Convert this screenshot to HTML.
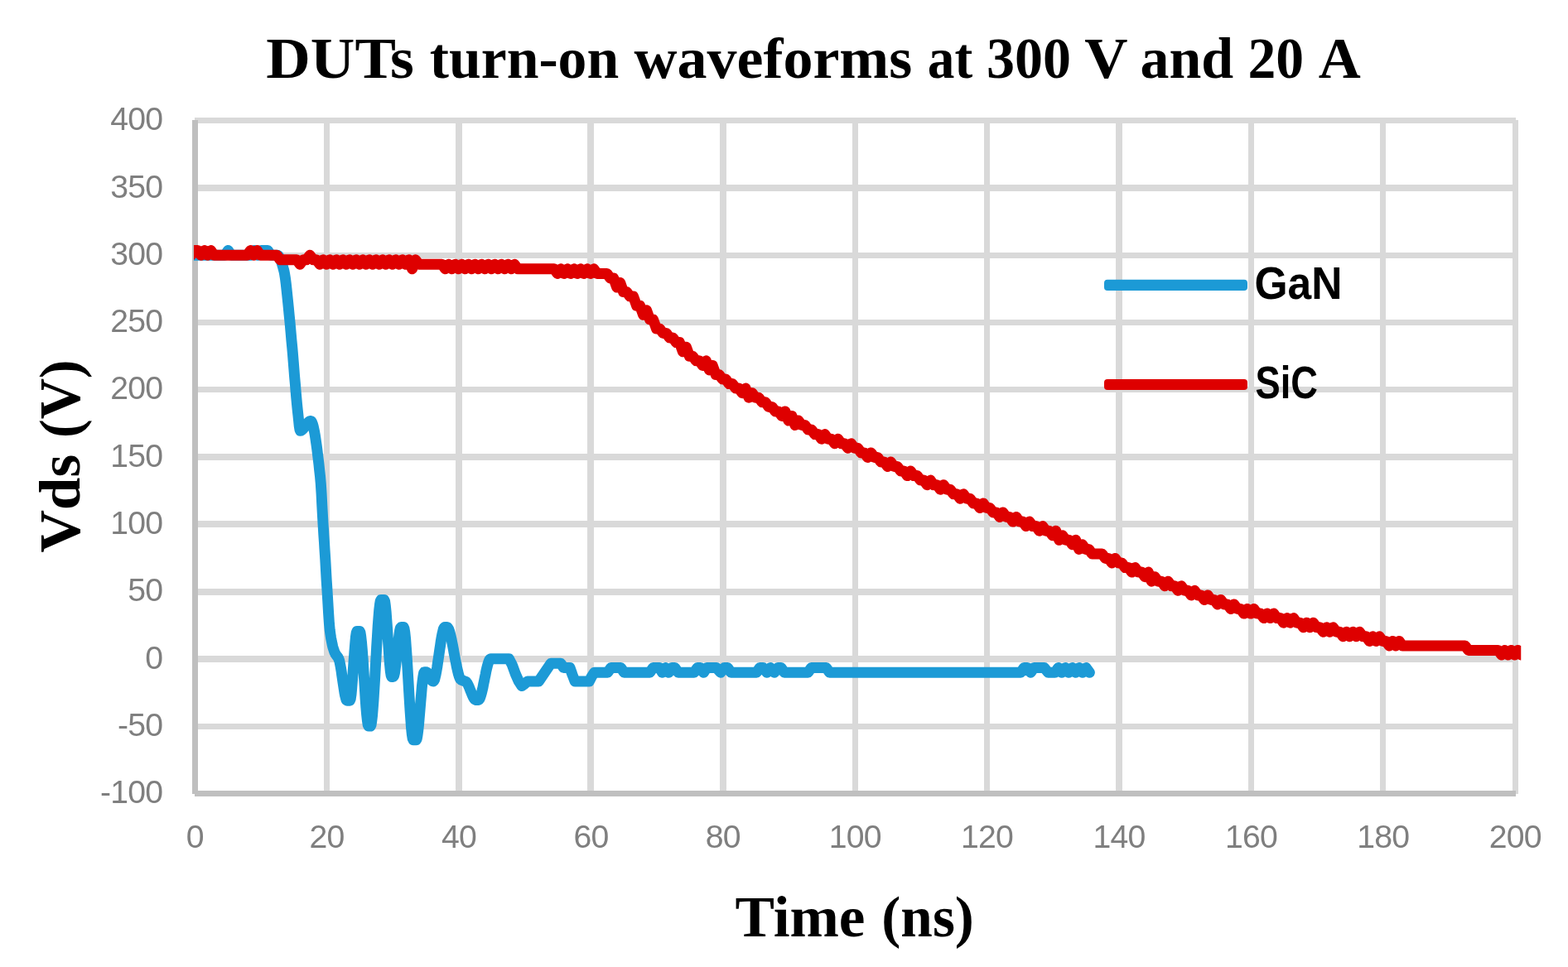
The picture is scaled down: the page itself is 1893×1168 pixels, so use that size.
<!DOCTYPE html>
<html lang="en"><head><meta charset="utf-8"><title>DUTs turn-on waveforms at 300 V and 20 A</title>
<style>html,body{margin:0;padding:0;background:#fff}body{width:1893px;height:1168px;overflow:hidden}svg{display:block}</style>
</head><body>
<svg width="1893" height="1168" viewBox="0 0 1893 1168">
<rect width="1893" height="1168" fill="#fff"/>
<defs><clipPath id="pc"><rect x="234" y="100" width="1602.25" height="900"/></clipPath></defs>
<path d="M235,142H1830V149H235ZM235,223H1830V231H235ZM235,305H1830V312H235ZM235,386H1830V393H235ZM235,467H1830V474H235ZM235,548H1830V556H235ZM235,629H1830V637H235ZM235,711H1830V719H235ZM235,792H1830V800H235ZM235,874H1830V881H235ZM391,145H398V959H391ZM550,145H558V959H550ZM709,145H717V959H709ZM869,145H877V959H869ZM1029,145H1036V959H1029ZM1188,145H1195V959H1188ZM1347,145H1355V959H1347ZM1507,145H1514V959H1507ZM1666,145H1673V959H1666ZM1826,145H1833V959H1826Z" fill="#d9d9d9" shape-rendering="crispEdges"/>
<path d="M232,145H239V959H232ZM235,955H1830V962H235Z" fill="#bfbfbf" shape-rendering="crispEdges"/>
<g clip-path="url(#pc)" fill="none" stroke-linejoin="round" stroke-linecap="round" stroke-width="13">
<path d="M231.5,308.3 L271.4,308.3 L275.4,302.5 L279.3,308.3 L303.3,308.3 L307.2,302.5 L311.2,308.3 L315.2,302.5 L319.2,302.5 L323.2,302.5 L327.1,308.3 L331.1,308.3 L331.9,308.3 L332.7,308.3 L333.5,308.3 L334.3,308.3 L335.1,308.3 L335.8,308.6 L336.5,309.5 L337.1,310.7 L337.8,312.1 L338.5,313.5 L339.2,315.0 L339.9,316.8 L340.5,318.8 L341.2,321.0 L341.8,323.2 L342.4,325.5 L343.1,328.2 L343.7,331.4 L344.5,336.5 L345.3,342.9 L346.1,350.2 L346.9,357.9 L347.7,365.6 L348.4,372.7 L349.1,380.1 L349.9,387.8 L350.6,395.8 L351.3,403.8 L352.0,411.9 L352.8,420.0 L353.5,428.3 L354.2,436.9 L354.9,445.8 L355.6,454.7 L356.4,463.6 L357.1,472.2 L357.8,480.4 L358.5,488.0 L359.2,495.0 L359.9,501.4 L360.6,508.1 L361.2,514.2 L361.9,518.6 L362.5,520.2 L363.3,520.1 L364.1,519.7 L364.8,519.2 L365.6,518.4 L366.4,517.5 L367.2,516.5 L368.0,515.5 L368.8,514.4 L369.5,513.3 L370.3,512.2 L371.1,511.2 L371.9,510.3 L372.7,509.6 L373.4,509.0 L374.2,508.6 L375.0,508.5 L375.8,508.9 L376.5,510.1 L377.3,512.0 L378.1,514.6 L378.8,517.9 L379.6,521.7 L380.4,526.1 L381.1,530.9 L381.9,536.3 L382.7,542.0 L383.4,548.1 L384.2,554.5 L385.0,561.1 L385.7,568.0 L386.5,575.0 L387.3,584.2 L388.1,596.6 L388.8,610.6 L389.6,625.1 L390.4,638.5 L390.9,646.9 L391.5,655.3 L392.0,663.8 L392.8,676.2 L393.5,688.8 L394.2,701.3 L395.0,713.4 L395.8,726.8 L396.6,740.5 L397.4,752.6 L398.2,761.0 L398.9,766.1 L399.6,770.7 L400.4,774.7 L401.1,778.2 L401.8,781.3 L402.6,783.9 L403.3,786.1 L404.0,788.0 L404.7,789.5 L405.4,790.6 L406.1,791.6 L406.9,792.5 L407.6,793.4 L408.3,794.6 L409.0,796.0 L409.8,798.3 L410.5,801.7 L411.3,805.9 L412.1,810.7 L412.8,815.9 L413.6,821.3 L414.4,826.6 L415.2,831.7 L415.9,836.4 L416.7,840.4 L417.5,843.5 L418.2,845.5 L419.0,846.2 L419.7,846.2 L420.4,846.2 L421.0,846.2 L421.7,846.2 L422.4,846.2 L423.2,844.2 L424.0,838.9 L424.7,830.9 L425.5,821.0 L426.3,810.0 L427.1,798.6 L427.9,787.6 L428.7,777.7 L429.4,769.7 L430.2,764.4 L431.0,762.4 L431.8,762.4 L432.6,762.4 L433.4,762.4 L434.2,762.4 L435.0,764.1 L435.7,768.8 L436.5,775.9 L437.3,785.1 L438.1,795.8 L438.8,807.5 L439.6,819.8 L440.4,832.0 L441.1,843.7 L441.9,854.4 L442.7,863.6 L443.5,870.7 L444.2,875.4 L445.0,877.1 L445.7,877.1 L446.5,877.1 L447.2,877.1 L448.0,875.6 L448.7,871.3 L449.5,864.5 L450.2,855.7 L451.0,845.3 L451.7,833.5 L452.5,820.8 L453.2,807.6 L454.0,794.1 L454.7,780.9 L455.5,768.2 L456.2,756.4 L457.0,746.0 L457.7,737.2 L458.5,730.4 L459.2,726.1 L460.0,724.6 L460.8,724.6 L461.5,724.6 L462.3,724.6 L463.0,724.6 L463.8,724.6 L464.6,726.4 L465.3,731.5 L466.1,739.1 L466.8,748.7 L467.6,759.5 L468.3,771.0 L469.1,782.5 L469.8,793.3 L470.6,802.9 L471.3,810.5 L472.1,815.6 L472.8,817.4 L473.5,817.4 L474.1,817.4 L474.8,817.4 L475.6,816.2 L476.4,813.0 L477.1,808.0 L477.9,801.9 L478.7,794.9 L479.5,787.5 L480.3,780.0 L481.1,773.0 L481.9,766.9 L482.6,761.9 L483.4,758.7 L484.2,757.5 L484.9,757.5 L485.7,757.5 L486.4,757.5 L487.2,757.5 L488.0,759.2 L488.8,764.1 L489.6,771.7 L490.3,781.4 L491.1,792.8 L491.9,805.5 L492.7,818.8 L493.5,832.5 L494.3,845.8 L495.1,858.5 L495.9,869.9 L496.6,879.6 L497.4,887.2 L498.2,892.1 L499.0,893.8 L499.7,893.8 L500.4,893.8 L501.0,893.8 L501.7,893.8 L502.4,893.8 L503.2,892.4 L503.9,888.6 L504.7,882.7 L505.5,875.3 L506.2,866.7 L507.0,857.5 L507.8,848.0 L508.6,838.8 L509.3,830.2 L510.1,822.8 L510.9,816.9 L511.6,813.1 L512.4,811.7 L513.1,811.7 L513.7,811.7 L514.4,811.7 L515.2,812.0 L516.0,812.7 L516.7,813.8 L517.5,815.1 L518.3,816.6 L519.1,818.1 L519.9,819.6 L520.7,820.9 L521.4,822.0 L522.2,822.7 L523.0,823.0 L523.8,822.4 L524.6,820.8 L525.3,818.1 L526.1,814.7 L526.9,810.6 L527.7,806.0 L528.4,801.0 L529.2,795.7 L530.0,790.2 L530.8,784.8 L531.6,779.5 L532.3,774.5 L533.1,769.9 L533.9,765.8 L534.7,762.4 L535.4,759.7 L536.2,758.1 L537.0,757.5 L537.6,757.5 L538.3,757.5 L539.0,757.5 L539.6,757.5 L540.4,757.9 L541.1,758.9 L541.9,760.5 L542.7,762.7 L543.4,765.4 L544.2,768.5 L545.0,771.9 L545.7,775.6 L546.5,779.6 L547.3,783.7 L548.0,787.8 L548.8,792.0 L549.6,796.2 L550.4,800.3 L551.1,804.1 L551.9,807.8 L552.7,811.1 L553.4,814.1 L554.2,816.6 L555.0,818.7 L555.7,820.2 L556.5,821.0 L557.2,821.4 L558.0,821.8 L558.8,822.0 L559.5,822.3 L560.2,822.5 L561.0,822.8 L561.8,823.1 L562.5,823.5 L563.3,824.2 L564.1,825.3 L564.9,826.8 L565.7,828.4 L566.5,830.3 L567.3,832.3 L568.1,834.4 L568.9,836.4 L569.7,838.4 L570.5,840.3 L571.3,842.0 L572.1,843.4 L572.9,844.5 L573.7,845.2 L574.5,845.4 L575.2,845.4 L576.0,845.4 L576.8,845.4 L577.5,845.4 L578.3,845.0 L579.1,843.9 L579.8,842.1 L580.6,839.7 L581.4,836.9 L582.2,833.7 L583.0,830.2 L583.7,826.4 L584.5,822.6 L585.3,818.6 L586.1,814.8 L586.8,811.0 L587.6,807.5 L588.4,804.3 L589.2,801.5 L590.0,799.1 L590.7,797.3 L591.5,796.2 L592.3,795.8 L593.1,795.8 L593.9,795.8 L594.7,795.8 L595.5,795.8 L596.3,795.8 L614.5,795.8 L618.3,803.0 L622.3,814.0 L626.3,823.0 L630.0,828.6 L633.5,826.0 L636.8,823.0 L650.3,823.0 L665.0,801.3 L677.0,801.3 L680.5,806.5 L688.0,806.5 L691.0,815.0 L694.1,823.0 L711.3,823.0 L714.4,817.0 L717.5,812.3 L733.6,812.3 L737.6,806.6 L741.6,806.6 L745.6,806.6 L749.5,806.6 L753.5,812.3 L784.5,812.3 L788.5,806.6 L792.3,806.6 L796.1,806.6 L799.6,812.3 L803.4,806.6 L807.2,812.3 L811.0,806.6 L814.8,806.6 L818.8,812.3 L838.0,812.3 L842.0,806.6 L845.6,806.6 L849.4,812.3 L853.2,806.6 L857.0,806.6 L861.0,806.6 L865.0,806.6 L870.0,812.3 L874.5,806.6 L878.5,806.6 L882.5,812.3 L913.3,812.3 L917.3,806.6 L921.3,806.6 L925.8,812.3 L930.0,806.6 L934.8,812.3 L939.0,806.6 L943.0,806.6 L947.0,812.3 L975.5,812.3 L979.5,806.6 L984.0,806.6 L988.5,806.6 L993.0,806.6 L997.5,806.6 L1001.5,812.3 L1232.3,812.3 L1236.3,806.6 L1240.3,806.6 L1244.3,812.3 L1248.3,806.6 L1252.3,806.6 L1256.3,806.6 L1260.8,806.6 L1265.5,812.3 L1270.2,812.3 L1273.5,812.3 L1277.7,806.6 L1281.9,812.3 L1286.1,806.6 L1290.3,812.3 L1294.5,806.6 L1298.6,812.3 L1302.8,806.6 L1307.0,812.3 L1311.2,806.6 L1315.4,812.3" stroke="#1c9ad6"/>
<path d="M230.6,308.2 L234.6,302.6 L238.6,302.6 L242.6,308.2 L246.6,302.6 L250.5,308.2 L254.5,302.6 L258.5,308.2 L262.5,308.2 L266.5,308.2 L270.5,308.2 L274.4,308.2 L278.4,308.2 L282.4,308.2 L286.4,308.2 L290.4,308.2 L294.4,308.2 L298.4,308.2 L302.3,302.6 L306.3,308.2 L310.3,302.6 L314.3,308.2 L318.3,308.2 L322.3,308.2 L326.3,308.2 L330.2,308.2 L334.2,308.2 L338.2,313.8 L342.2,313.8 L346.2,313.8 L350.2,313.8 L354.1,313.8 L358.1,313.8 L362.1,319.3 L366.1,313.8 L370.1,313.8 L374.1,308.2 L378.1,313.8 L382.0,313.8 L386.0,319.3 L390.0,313.8 L394.0,319.3 L398.0,313.8 L402.0,319.3 L406.0,313.8 L409.9,319.3 L413.9,313.8 L417.9,319.3 L421.9,313.8 L425.9,319.3 L429.9,313.8 L433.9,319.3 L437.8,313.8 L441.8,319.3 L445.8,313.8 L449.8,319.3 L453.8,313.8 L457.8,319.3 L461.7,313.8 L465.7,319.3 L469.7,313.8 L473.7,319.3 L477.7,313.8 L481.7,319.3 L485.7,313.8 L489.6,319.3 L493.6,313.8 L497.6,324.8 L501.6,313.8 L505.6,319.3 L509.6,319.3 L513.5,319.3 L517.5,319.3 L521.5,319.3 L525.5,319.3 L529.5,319.3 L533.5,319.3 L537.5,324.8 L541.4,319.3 L545.4,324.8 L549.4,319.3 L553.4,324.8 L557.4,319.3 L561.4,324.8 L565.4,319.3 L569.3,324.8 L573.3,319.3 L577.3,324.8 L581.3,319.3 L585.3,324.8 L589.3,319.3 L593.2,324.8 L597.2,319.3 L601.2,324.8 L605.2,319.3 L609.2,324.8 L613.2,319.3 L617.2,324.8 L621.1,319.3 L625.1,324.8 L629.1,324.8 L633.1,324.8 L637.1,324.8 L641.1,324.8 L645.1,324.8 L649.0,324.8 L653.0,324.8 L657.0,324.8 L661.0,324.8 L665.0,324.8 L669.0,324.8 L672.9,330.4 L676.9,324.8 L680.9,330.4 L684.9,324.8 L688.9,330.4 L692.9,324.8 L696.9,330.4 L700.8,324.8 L704.8,330.4 L708.8,324.8 L712.8,330.4 L716.8,324.8 L720.8,330.4 L724.8,330.4 L728.7,330.4 L732.7,330.4 L736.7,335.9 L740.7,335.9 L744.7,347.1 L748.7,341.5 L752.6,352.6 L756.6,352.6 L760.6,358.1 L764.6,358.1 L768.6,369.2 L772.6,369.2 L776.6,380.3 L780.5,374.8 L784.5,385.9 L788.5,385.9 L792.5,397.0 L796.5,397.0 L800.5,402.5 L804.5,402.5 L808.4,408.1 L812.4,408.1 L816.4,413.6 L820.4,413.6 L824.4,424.8 L828.4,419.2 L832.4,430.3 L836.3,430.3 L840.3,435.8 L844.3,435.8 L848.3,441.4 L852.3,435.8 L856.3,446.9 L860.2,441.4 L864.2,452.5 L868.2,452.5 L872.2,458.0 L876.2,458.0 L880.2,463.6 L884.2,463.6 L888.1,469.1 L892.1,469.1 L896.1,474.7 L900.1,469.1 L904.1,480.2 L908.1,474.7 L912.0,480.2 L916.0,480.2 L920.0,485.8 L924.0,485.8 L928.0,491.4 L932.0,491.4 L936.0,496.9 L939.9,496.9 L943.9,502.4 L947.9,496.9 L951.9,508.0 L955.9,502.4 L959.9,513.5 L963.9,508.0 L967.8,513.5 L971.8,513.5 L975.8,519.1 L979.8,519.1 L983.8,524.6 L987.8,524.6 L991.8,530.2 L995.7,524.6 L999.7,530.2 L1003.7,530.2 L1007.7,535.8 L1011.7,530.2 L1015.7,535.8 L1019.6,535.8 L1023.6,541.3 L1027.6,535.8 L1031.6,541.3 L1035.6,541.3 L1039.6,546.9 L1043.6,546.9 L1047.5,552.4 L1051.5,546.9 L1055.5,552.4 L1059.5,552.4 L1063.5,558.0 L1067.5,558.0 L1071.5,563.5 L1075.4,558.0 L1079.4,563.5 L1083.4,563.5 L1087.4,569.0 L1091.4,569.0 L1095.4,574.6 L1099.3,569.0 L1103.3,574.6 L1107.3,574.6 L1111.3,580.1 L1115.3,580.1 L1119.3,585.7 L1123.3,580.1 L1127.2,585.7 L1131.2,585.7 L1135.2,591.2 L1139.2,585.7 L1143.2,591.2 L1147.2,591.2 L1151.1,596.8 L1155.1,596.8 L1159.1,602.3 L1163.1,596.8 L1167.1,602.3 L1171.1,602.3 L1175.1,607.9 L1179.0,607.9 L1183.0,613.5 L1187.0,607.9 L1191.0,613.5 L1195.0,613.5 L1199.0,619.0 L1203.0,619.0 L1206.9,624.5 L1210.9,619.0 L1214.9,624.5 L1218.9,624.5 L1222.9,630.1 L1226.9,624.5 L1230.8,630.1 L1234.8,630.1 L1238.8,635.6 L1242.8,630.1 L1246.8,635.6 L1250.8,635.6 L1254.8,641.2 L1258.7,635.6 L1262.7,641.2 L1266.7,641.2 L1270.7,646.8 L1274.7,641.2 L1278.7,652.3 L1282.7,646.8 L1286.6,652.3 L1290.6,652.3 L1294.6,657.8 L1298.6,652.3 L1302.6,663.4 L1306.6,657.8 L1310.5,663.4 L1314.5,663.4 L1318.5,669.0 L1322.5,669.0 L1326.5,669.0 L1330.5,669.0 L1334.5,674.5 L1338.4,674.5 L1342.4,680.0 L1346.4,674.5 L1350.4,680.0 L1354.4,680.0 L1358.4,685.6 L1362.4,685.6 L1366.3,691.1 L1370.3,685.6 L1374.3,691.1 L1378.3,691.1 L1382.3,696.7 L1386.3,691.1 L1390.2,702.2 L1394.2,696.7 L1398.2,702.2 L1402.2,702.2 L1406.2,707.8 L1410.2,702.2 L1414.2,707.8 L1418.1,707.8 L1422.1,713.3 L1426.1,707.8 L1430.1,713.3 L1434.1,713.3 L1438.1,718.9 L1442.1,713.3 L1446.0,718.9 L1450.0,718.9 L1454.0,724.5 L1458.0,718.9 L1462.0,724.5 L1466.0,724.5 L1469.9,730.0 L1473.9,724.5 L1477.9,730.0 L1481.9,730.0 L1485.9,735.5 L1489.9,730.0 L1493.9,735.5 L1497.8,735.5 L1501.8,741.1 L1505.8,735.5 L1509.8,741.1 L1513.8,735.5 L1517.8,741.1 L1521.8,741.1 L1525.7,746.6 L1529.7,741.1 L1533.7,746.6 L1537.7,741.1 L1541.7,746.6 L1545.7,746.6 L1549.6,752.2 L1553.6,746.6 L1557.6,752.2 L1561.6,746.6 L1565.6,752.2 L1569.6,752.2 L1573.6,757.8 L1577.5,752.2 L1581.5,757.8 L1585.5,752.2 L1589.5,757.8 L1593.5,757.8 L1597.5,763.3 L1601.5,757.8 L1605.4,763.3 L1609.4,757.8 L1613.4,763.3 L1617.4,763.3 L1621.4,768.8 L1625.4,763.3 L1629.3,768.8 L1633.3,763.3 L1637.3,768.8 L1641.3,763.3 L1645.3,768.8 L1649.3,768.8 L1653.3,774.4 L1657.2,768.8 L1661.2,774.4 L1665.2,768.8 L1669.2,774.4 L1673.2,774.4 L1677.2,780.0 L1681.2,774.4 L1685.1,780.0 L1689.1,774.4 L1693.1,780.0 L1697.1,780.0 L1701.1,780.0 L1705.1,780.0 L1709.0,780.0 L1713.0,780.0 L1717.0,780.0 L1721.0,780.0 L1725.0,780.0 L1729.0,780.0 L1733.0,780.0 L1736.9,780.0 L1740.9,780.0 L1744.9,780.0 L1748.9,780.0 L1752.9,780.0 L1756.9,780.0 L1760.9,780.0 L1764.8,780.0 L1768.8,780.0 L1772.8,785.5 L1776.8,785.5 L1780.8,785.5 L1784.8,785.5 L1788.7,785.5 L1792.7,785.5 L1796.7,785.5 L1800.7,785.5 L1804.7,785.5 L1808.7,785.5 L1812.7,791.0 L1816.6,785.5 L1820.6,791.0 L1824.6,785.5 L1828.6,791.0 L1832.6,785.5 L1836.6,791.0 L1840.6,785.5" stroke="#de0000"/>
</g>
<rect x="1333" y="337.8" width="173" height="13.1" rx="4" fill="#1c9ad6"/>
<rect x="1333" y="457.9" width="173" height="13.1" rx="4" fill="#de0000"/>
<text x="1514.5" y="361.1" font-family="'Liberation Sans','DejaVu Sans',sans-serif" font-weight="700" font-size="55" textLength="106" lengthAdjust="spacingAndGlyphs">GaN</text>
<text x="1515.5" y="481.2" font-family="'Liberation Sans','DejaVu Sans',sans-serif" font-weight="700" font-size="55" textLength="75.5" lengthAdjust="spacingAndGlyphs">SiC</text>
<g font-family="'Liberation Sans','DejaVu Sans',sans-serif" font-size="39.2" fill="#7f7f7f" letter-spacing="-0.8" text-anchor="end">
<text x="196.3" y="157.2">400</text>
<text x="196.3" y="238.5">350</text>
<text x="196.3" y="319.8">300</text>
<text x="196.3" y="401.1">250</text>
<text x="196.3" y="482.4">200</text>
<text x="196.3" y="563.7">150</text>
<text x="196.3" y="645.0">100</text>
<text x="196.3" y="726.3">50</text>
<text x="196.3" y="807.6">0</text>
<text x="196.3" y="888.9">-50</text>
<text x="196.3" y="970.2">-100</text>
</g>
<g font-family="'Liberation Sans','DejaVu Sans',sans-serif" font-size="39.2" fill="#7f7f7f" letter-spacing="-0.8" text-anchor="middle">
<text x="235.2" y="1024.2">0</text>
<text x="394.6" y="1024.2">20</text>
<text x="554.0" y="1024.2">40</text>
<text x="713.4" y="1024.2">60</text>
<text x="872.8" y="1024.2">80</text>
<text x="1032.2" y="1024.2">100</text>
<text x="1191.6" y="1024.2">120</text>
<text x="1351.0" y="1024.2">140</text>
<text x="1510.4" y="1024.2">160</text>
<text x="1669.8" y="1024.2">180</text>
<text x="1829.2" y="1024.2">200</text>
</g>
<text y="93.8" font-family="'Liberation Serif','DejaVu Serif',serif" font-weight="700" font-size="69.8"><tspan x="321.3" textLength="178.6" lengthAdjust="spacingAndGlyphs">DUTs</tspan> <tspan x="518.8" textLength="228.4" lengthAdjust="spacingAndGlyphs">turn-on</tspan> <tspan x="765.6" textLength="335.7" lengthAdjust="spacingAndGlyphs">waveforms</tspan> <tspan x="1119.8" textLength="54.4" lengthAdjust="spacingAndGlyphs">at</tspan> <tspan x="1191" textLength="102" lengthAdjust="spacingAndGlyphs">300</tspan> <tspan x="1309.2" textLength="51" lengthAdjust="spacingAndGlyphs">V</tspan> <tspan x="1376.5" textLength="112.7" lengthAdjust="spacingAndGlyphs">and</tspan> <tspan x="1506.5" textLength="67.6" lengthAdjust="spacingAndGlyphs">20</tspan> <tspan x="1591.8" textLength="51" lengthAdjust="spacingAndGlyphs">A</tspan></text>
<text y="1130.8" font-family="'Liberation Serif','DejaVu Serif',serif" font-weight="700" font-size="69.8"><tspan x="887.5" textLength="157" lengthAdjust="spacingAndGlyphs">Time</tspan> <tspan x="1064.3" textLength="111.6" lengthAdjust="spacingAndGlyphs">(ns)</tspan></text>
<text transform="rotate(-90)" y="96.3" font-family="'Liberation Serif','DejaVu Serif',serif" font-weight="700" font-size="69.8"><tspan x="-667.6" textLength="118.8" lengthAdjust="spacingAndGlyphs">Vds</tspan> <tspan x="-529" textLength="94.5" lengthAdjust="spacingAndGlyphs">(V)</tspan></text>
</svg>
</body></html>
